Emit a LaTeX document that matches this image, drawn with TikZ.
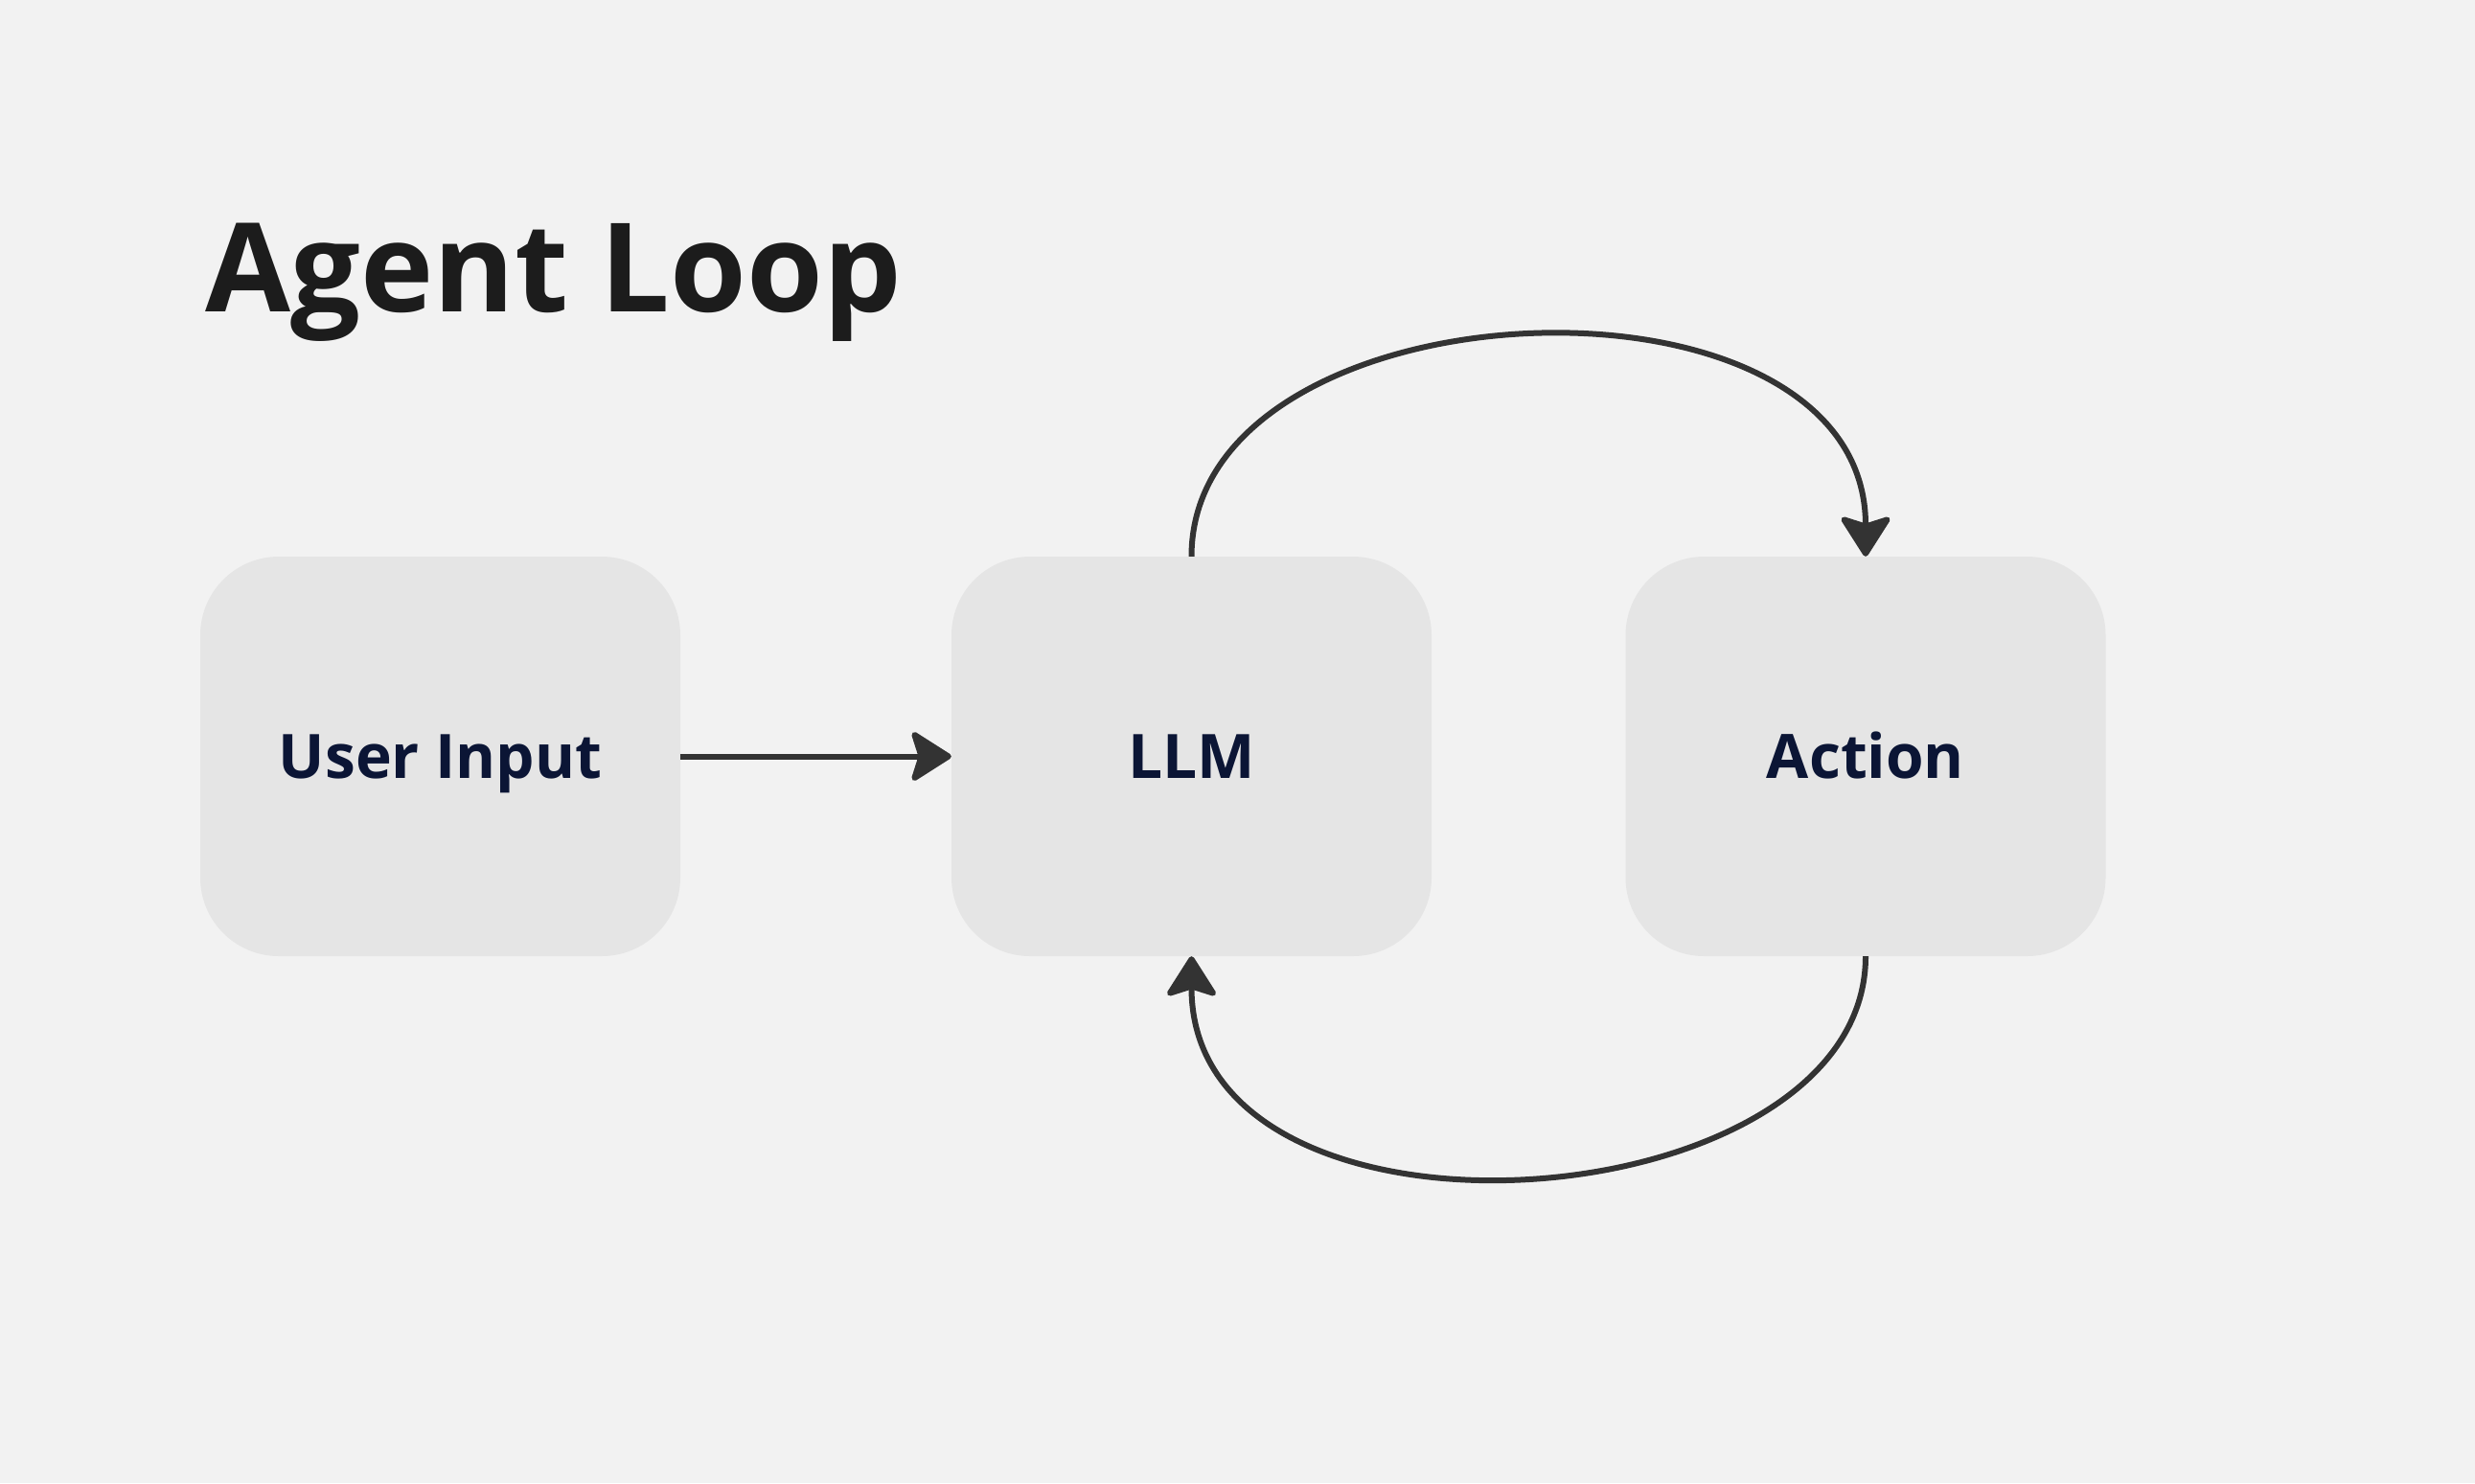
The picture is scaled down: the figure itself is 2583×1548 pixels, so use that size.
\documentclass[tikz,border=0pt]{standalone}
\usepackage{fontspec}
\setmainfont{Open Sans}
\usetikzlibrary{arrows.meta}
\definecolor{bgc}{HTML}{F2F2F2}
\definecolor{boxc}{HTML}{E5E5E5}
\definecolor{labc}{HTML}{0B1535}
\definecolor{titc}{HTML}{1C1C1C}
\definecolor{arrc}{HTML}{333333}
\tikzset{
  stagebox/.style={draw=none, fill=boxc, rounded corners=82pt, minimum width=501pt, minimum height=417pt,
    inner sep=0pt, font=\fontsize{64}{70}\selectfont\bfseries, text=labc, text height=45.7pt, text depth=0pt},
  flow/.style={draw=arrc, line width=6pt, -{Stealth[length=46pt, width=58pt, inset=9pt, round]}}
}
\begin{document}
\begin{tikzpicture}[x=1pt, y=-1pt]
\fill[bgc] (0,0) rectangle (2583,1548);
\useasboundingbox (0,0) rectangle (2583,1548);
\node[anchor=base west, inner sep=0pt, font=\fontsize{129}{140}\selectfont\bfseries, text=titc] (title) at (214,325) {Agent Loop};
\node[stagebox] (user) at (459.5,789.5) {User Input};
\node[stagebox] (llm) at (1243.5,789.5) {LLM};
\node[stagebox] (act) at (1947,789.5) {Action};
\draw[flow] (user.east) -- (llm.west);
\draw[flow] (llm.north) .. controls +(0,-290) and +(0,-320) .. (act.north);
\draw[flow] (act.south) .. controls +(0,280) and +(0,330) .. (llm.south);
\end{tikzpicture}
\end{document}
